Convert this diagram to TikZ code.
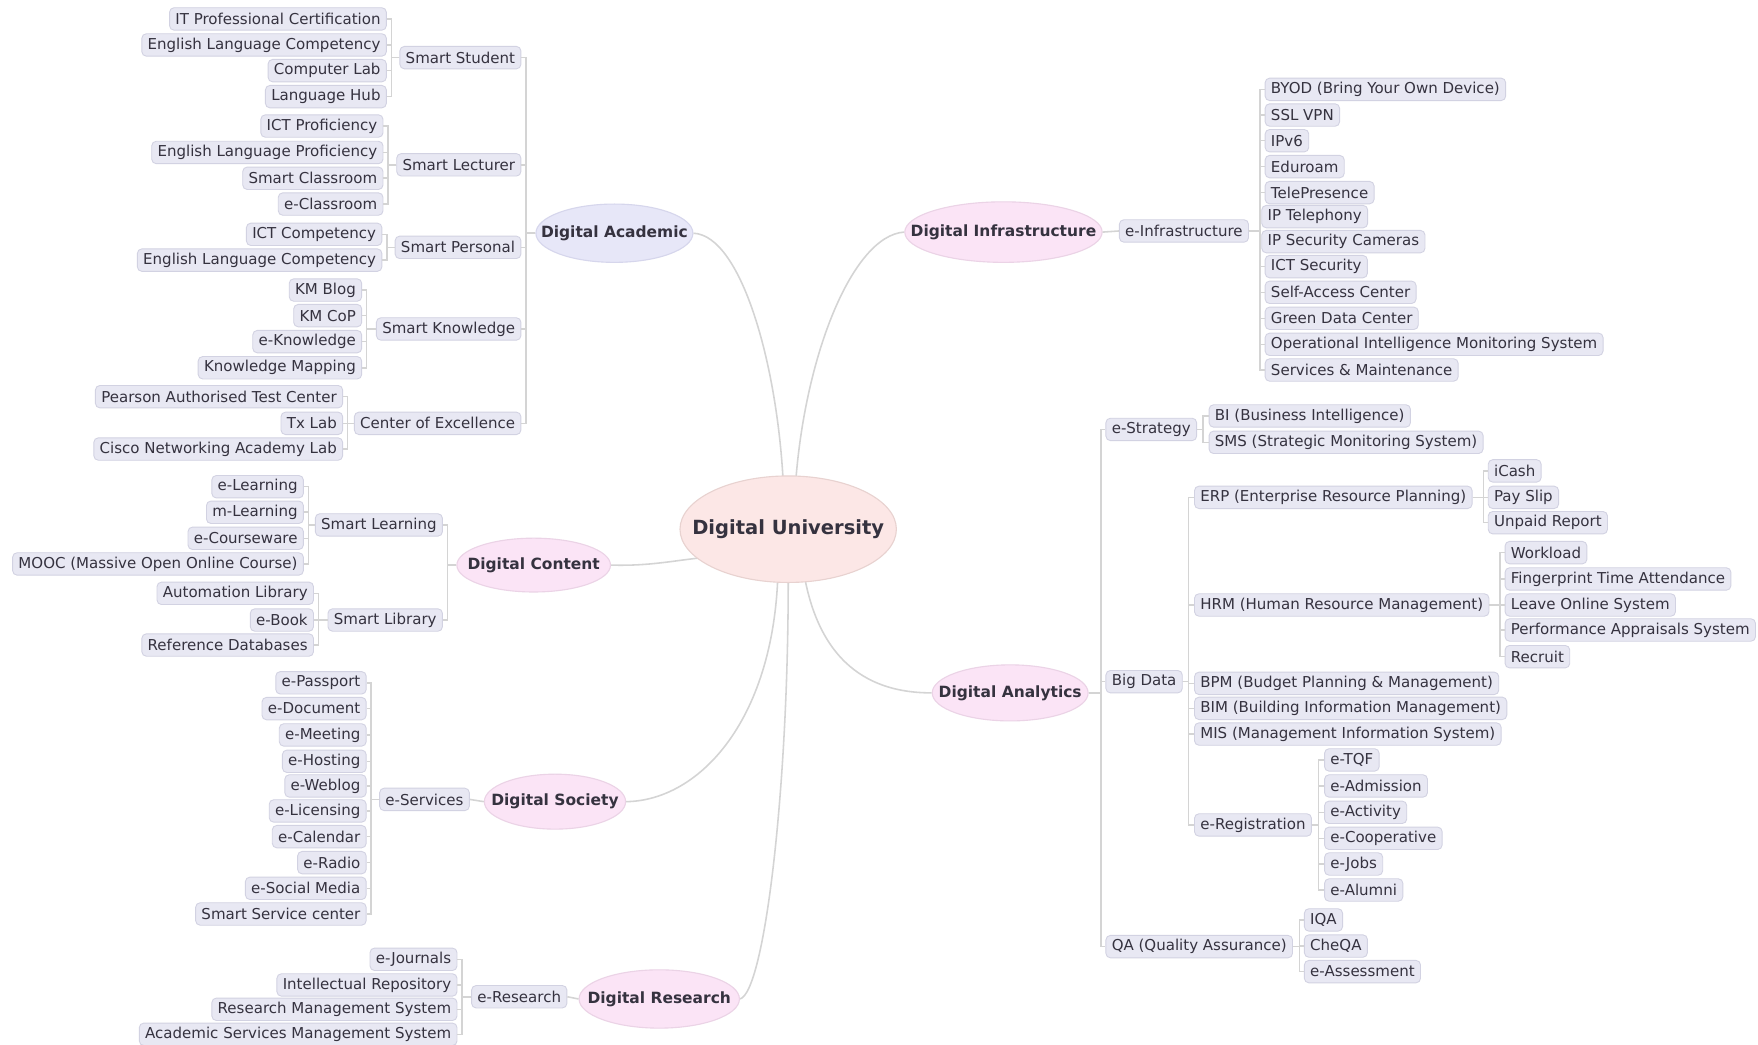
\documentclass[tikz,border=0pt]{standalone}
\usepackage{fontspec}
\setmainfont{DejaVu Sans}
\usetikzlibrary{shapes.geometric}
\pgfdeclarelayer{background}
\pgfsetlayers{background,main}
\definecolor{boxfill}{HTML}{E8E8F3}
\definecolor{boxdraw}{HTML}{D2D2E2}
\definecolor{txt}{HTML}{35323F}
\definecolor{wire}{HTML}{D4D4D4}
\definecolor{pinkfill}{HTML}{FBE4F6}
\definecolor{pinkdraw}{HTML}{EBD3E6}
\definecolor{lavfill}{HTML}{E7E7F8}
\definecolor{lavdraw}{HTML}{D6D6EC}
\definecolor{ctrfill}{HTML}{FCE7E6}
\definecolor{ctrdraw}{HTML}{E8D2D0}
\tikzset{
  leaf/.style={draw=boxdraw, fill=boxfill, rounded corners=2pt, text=txt,
    font=\fontsize{6.7}{8}\selectfont, inner xsep=2.6pt, inner ysep=0pt,
    minimum height=10pt, line width=0.4pt},
  topic/.style={ellipse, draw=pinkdraw, fill=pinkfill, line width=0.5pt, inner sep=0pt},
  ttl/.style={label={[text=txt, font=\fontsize{6.9}{8}\bfseries\selectfont, inner sep=0pt]center:#1}},
  bigttl/.style={label={[text=txt, font=\fontsize{8.7}{10}\bfseries\selectfont, inner sep=0pt]center:#1}},
  wireline/.style={draw=wire, line width=0.7pt},
}
\begin{document}
\begin{tikzpicture}[x=0.5pt, y=-0.5pt]
\begin{pgfonlayer}{background}
\fill[white] (0,0) rectangle (1568,932);
\end{pgfonlayer}
\useasboundingbox (0,0) rectangle (1568,932);

% ---------------- central
\node[topic, draw=ctrdraw, fill=ctrfill, minimum width=96.5pt, minimum height=47.5pt,
  bigttl={Digital University}] (du) at (703,472) {};

% ---------------- main topics
\node[topic, draw=lavdraw, fill=lavfill, minimum width=70pt, minimum height=26pt, ttl={Digital Academic}] (acad) at (548,208) {};
\node[topic, minimum width=88pt, minimum height=27pt, ttl={Digital Infrastructure}] (infra) at (895,207) {};
\node[topic, minimum width=68.5pt, minimum height=24pt, ttl={Digital Content}] (cont) at (476,504) {};
\node[topic, minimum width=63pt, minimum height=24.5pt, ttl={Digital Society}] (soc) at (495,715) {};
\node[topic, minimum width=71.5pt, minimum height=26pt, ttl={Digital Research}] (res) at (588,891) {};
\node[topic, minimum width=69.5pt, minimum height=25pt, ttl={Digital Analytics}] (ana) at (901,618) {};

% ---------------- central curves
\coordinate (duA) at (699,440);
\coordinate (duI) at (709,440);
\coordinate (duC) at (630,497);
\coordinate (duS) at (694,505);
\coordinate (duR) at (703,505);
\coordinate (duN) at (716,505);
\begin{pgfonlayer}{background}
\draw[wireline] (acad.east) .. controls (662,210) and (695,330) .. (duA);
\draw[wireline] (infra.west) .. controls (760,210) and (716,320) .. (duI);
\draw[wireline] (cont.east) .. controls (580,505) and (600,500) .. (duC);
\draw[wireline] (soc.east) .. controls (625,714) and (692,640) .. (duS);
\draw[wireline] (res.east) .. controls (682,885) and (704,700) .. (duR);
\draw[wireline] (ana.west) .. controls (785,618) and (730,600) .. (duN);
\end{pgfonlayer}

% ================= DIGITAL ACADEMIC
\coordinate (acadbus) at (469,208);
\node[leaf, anchor=east] (ss) at (465,51.4) {Smart Student};
\node[leaf, anchor=east] (sl) at (465,147) {Smart Lecturer};
\node[leaf, anchor=east] (sp) at (465,220.6) {Smart Personal};
\node[leaf, anchor=east] (sk) at (465,293.4) {Smart Knowledge};
\node[leaf, anchor=east] (coe) at (465,377.6) {Center of Excellence};
\foreach \c in {ss,sl,sp,sk,coe} \draw[wireline] (acad.west) -- (acadbus) |- (\c.east);

\coordinate (ssbus) at (349,51.4);
\node[leaf, anchor=east] (ss1) at (345,16.9) {IT Professional Certification};
\node[leaf, anchor=east] (ss2) at (345,40.1) {English Language Competency};
\node[leaf, anchor=east] (ss3) at (345,63) {Computer Lab};
\node[leaf, anchor=east] (ss4) at (345,86.2) {Language Hub};
\foreach \c in {ss1,ss2,ss3,ss4} \draw[wireline] (ss.west) -- (ssbus) |- (\c.east);

\coordinate (slbus) at (346,147);
\node[leaf, anchor=east] (sl1) at (342,112.4) {ICT Proficiency};
\node[leaf, anchor=east] (sl2) at (342,136) {English Language Proficiency};
\node[leaf, anchor=east] (sl3) at (342,159) {Smart Classroom};
\node[leaf, anchor=east] (sl4) at (342,182) {e-Classroom};
\foreach \c in {sl1,sl2,sl3,sl4} \draw[wireline] (sl.west) -- (slbus) |- (\c.east);

\coordinate (spbus) at (345,220.6);
\node[leaf, anchor=east] (sp1) at (341,209) {ICT Competency};
\node[leaf, anchor=east] (sp2) at (341,232) {English Language Competency};
\foreach \c in {sp1,sp2} \draw[wireline] (sp.west) -- (spbus) |- (\c.east);

\coordinate (skbus) at (327,293.4);
\node[leaf, anchor=east] (sk1) at (323,258.7) {KM Blog};
\node[leaf, anchor=east] (sk2) at (323,281.5) {KM CoP};
\node[leaf, anchor=east] (sk3) at (323,304.7) {e-Knowledge};
\node[leaf, anchor=east] (sk4) at (323,328) {Knowledge Mapping};
\foreach \c in {sk1,sk2,sk3,sk4} \draw[wireline] (sk.west) -- (skbus) |- (\c.east);

\coordinate (coebus) at (310,377.6);
\node[leaf, anchor=east] (coe1) at (306,353.8) {Pearson Authorised Test Center};
\node[leaf, anchor=east] (coe2) at (306,377.6) {Tx Lab};
\node[leaf, anchor=east] (coe3) at (306,400.5) {Cisco Networking Academy Lab};
\foreach \c in {coe1,coe2,coe3} \draw[wireline] (coe.west) -- (coebus) |- (\c.east);

% ================= DIGITAL CONTENT
\coordinate (contbus) at (399,504);
\node[leaf, anchor=east] (slearn) at (395,468.2) {Smart Learning};
\node[leaf, anchor=east] (slib) at (395,553) {Smart Library};
\foreach \c in {slearn,slib} \draw[wireline] (cont.west) -- (contbus) |- (\c.east);

\coordinate (slearnbus) at (275,468.2);
\node[leaf, anchor=east] (le1) at (271,434.1) {e-Learning};
\node[leaf, anchor=east] (le2) at (271,456.9) {m-Learning};
\node[leaf, anchor=east] (le3) at (271,480.1) {e-Courseware};
\node[leaf, anchor=east] (le4) at (271,503) {MOOC (Massive Open Online Course)};
\foreach \c in {le1,le2,le3,le4} \draw[wireline] (slearn.west) -- (slearnbus) |- (\c.east);

\coordinate (slibbus) at (284,553);
\node[leaf, anchor=east] (li1) at (280,529.2) {Automation Library};
\node[leaf, anchor=east] (li2) at (280,553) {e-Book};
\node[leaf, anchor=east] (li3) at (280,575.3) {Reference Databases};
\foreach \c in {li1,li2,li3} \draw[wireline] (slib.west) -- (slibbus) |- (\c.east);

% ================= DIGITAL SOCIETY
\node[leaf, anchor=east] (eserv) at (419,713) {e-Services};
\draw[wireline] (soc.west) -- (eserv.east);
\coordinate (eservbus) at (331,713);
\node[leaf, anchor=east] (es1) at (327,609) {e-Passport};
\node[leaf, anchor=east] (es2) at (327,632) {e-Document};
\node[leaf, anchor=east] (es3) at (327,655.5) {e-Meeting};
\node[leaf, anchor=east] (es4) at (327,679) {e-Hosting};
\node[leaf, anchor=east] (es5) at (327,701) {e-Weblog};
\node[leaf, anchor=east] (es6) at (327,723.3) {e-Licensing};
\node[leaf, anchor=east] (es7) at (327,746.2) {e-Calendar};
\node[leaf, anchor=east] (es8) at (327,769.4) {e-Radio};
\node[leaf, anchor=east] (es9) at (327,792.3) {e-Social Media};
\node[leaf, anchor=east] (es10) at (327,815.2) {Smart Service center};
\foreach \c in {es1,es2,es3,es4,es5,es6,es7,es8,es9,es10} \draw[wireline] (eserv.west) -- (eservbus) |- (\c.east);

% ================= DIGITAL RESEARCH
\node[leaf, anchor=east] (eres) at (506,889) {e-Research};
\draw[wireline] (res.west) -- (eres.east);
\coordinate (eresbus) at (412,889);
\node[leaf, anchor=east] (er1) at (408,855.6) {e-Journals};
\node[leaf, anchor=east] (er2) at (408,878.5) {Intellectual Repository};
\node[leaf, anchor=east] (er3) at (408,900.2) {Research Management System};
\node[leaf, anchor=east] (er4) at (408,922.5) {Academic Services Management System};
\foreach \c in {er1,er2,er3,er4} \draw[wireline] (eres.west) -- (eresbus) |- (\c.east);

% ================= DIGITAL INFRASTRUCTURE
\node[leaf, anchor=west] (einf) at (998,206) {e-Infrastructure};
\draw[wireline] (infra.east) -- (einf.west);
\coordinate (einfbus) at (1124,206);
\node[leaf, anchor=west] (in1) at (1128,79.7) {BYOD (Bring Your Own Device)};
\node[leaf, anchor=west] (in2) at (1128,102.6) {SSL VPN};
\node[leaf, anchor=west] (in3) at (1128,125.5) {IPv6};
\node[leaf, anchor=west] (in4) at (1128,148.6) {Eduroam};
\node[leaf, anchor=west] (in5) at (1128,171.8) {TelePresence};
\node[leaf, anchor=west] (in6) at (1125,193.2) {IP Telephony};
\node[leaf, anchor=west] (in7) at (1125,215.5) {IP Security Cameras};
\node[leaf, anchor=west] (in8) at (1128,237.8) {ICT Security};
\node[leaf, anchor=west] (in9) at (1128,260.7) {Self-Access Center};
\node[leaf, anchor=west] (in10) at (1128,283.9) {Green Data Center};
\node[leaf, anchor=west] (in11) at (1128,307.1) {Operational Intelligence Monitoring System};
\node[leaf, anchor=west] (in12) at (1128,330) {Services \& Maintenance};
\foreach \c in {in1,in2,in3,in4,in5,in6,in7,in8,in9,in10,in11,in12} \draw[wireline] (einf.east) -- (einfbus) |- (\c.west);

% ================= DIGITAL ANALYTICS
\coordinate (anabus) at (982,618);
\node[leaf, anchor=west] (estr) at (986,383) {e-Strategy};
\node[leaf, anchor=west] (bigd) at (986,608) {Big Data};
\node[leaf, anchor=west] (qa) at (986,844.3) {QA (Quality Assurance)};
\foreach \c in {estr,bigd,qa} \draw[wireline] (ana.east) -- (anabus) |- (\c.west);

\coordinate (estrbus) at (1073,383);
\node[leaf, anchor=west] (st1) at (1078,371) {BI (Business Intelligence)};
\node[leaf, anchor=west] (st2) at (1078,394.5) {SMS (Strategic Monitoring System)};
\foreach \c in {st1,st2} \draw[wireline] (estr.east) -- (estrbus) |- (\c.west);

\coordinate (bigdbus) at (1060,608);
\node[leaf, anchor=west] (erp) at (1065,443.6) {ERP (Enterprise Resource Planning)};
\node[leaf, anchor=west] (hrm) at (1065,539.6) {HRM (Human Resource Management)};
\node[leaf, anchor=west] (bpm) at (1065,609.5) {BPM (Budget Planning \& Management)};
\node[leaf, anchor=west] (bim) at (1065,631.8) {BIM (Building Information Management)};
\node[leaf, anchor=west] (mis) at (1065,654.7) {MIS (Management Information System)};
\node[leaf, anchor=west] (ereg) at (1065,735.8) {e-Registration};
\foreach \c in {erp,hrm,bpm,bim,mis,ereg} \draw[wireline] (bigd.east) -- (bigdbus) |- (\c.west);

\coordinate (erpbus) at (1323,443.6);
\node[leaf, anchor=west] (ep1) at (1327,420) {iCash};
\node[leaf, anchor=west] (ep2) at (1327,443.6) {Pay Slip};
\node[leaf, anchor=west] (ep3) at (1327,466.2) {Unpaid Report};
\foreach \c in {ep1,ep2,ep3} \draw[wireline] (erp.east) -- (erpbus) |- (\c.west);

\coordinate (hrmbus) at (1338,539.6);
\node[leaf, anchor=west] (hr1) at (1342,492.9) {Workload};
\node[leaf, anchor=west] (hr2) at (1342,516.4) {Fingerprint Time Attendance};
\node[leaf, anchor=west] (hr3) at (1342,539.6) {Leave Online System};
\node[leaf, anchor=west] (hr4) at (1342,561.9) {Performance Appraisals System};
\node[leaf, anchor=west] (hr5) at (1342,585.7) {Recruit};
\foreach \c in {hr1,hr2,hr3,hr4,hr5} \draw[wireline] (hrm.east) -- (hrmbus) |- (\c.west);

\coordinate (eregbus) at (1176,735.8);
\node[leaf, anchor=west] (rg1) at (1181,677.8) {e-TQF};
\node[leaf, anchor=west] (rg2) at (1181,701) {e-Admission};
\node[leaf, anchor=west] (rg3) at (1181,724.5) {e-Activity};
\node[leaf, anchor=west] (rg4) at (1181,747.7) {e-Cooperative};
\node[leaf, anchor=west] (rg5) at (1181,770.6) {e-Jobs};
\node[leaf, anchor=west] (rg6) at (1181,793.8) {e-Alumni};
\foreach \c in {rg1,rg2,rg3,rg4,rg5,rg6} \draw[wireline] (ereg.east) -- (eregbus) |- (\c.west);

\coordinate (qabus) at (1159,844.3);
\node[leaf, anchor=west] (qa1) at (1163,820.5) {IQA};
\node[leaf, anchor=west] (qa2) at (1163,843.8) {CheQA};
\node[leaf, anchor=west] (qa3) at (1163,866.6) {e-Assessment};
\foreach \c in {qa1,qa2,qa3} \draw[wireline] (qa.east) -- (qabus) |- (\c.west);

\end{tikzpicture}
\end{document}
